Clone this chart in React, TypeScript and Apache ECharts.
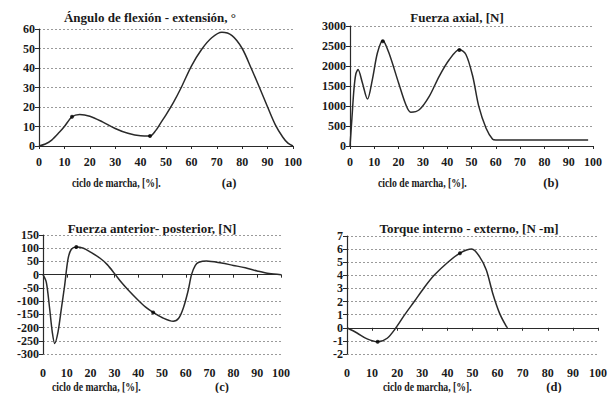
import React, { useEffect, useRef } from "react";
import * as echarts from "echarts";

// Panel (a): Ángulo de flexión - extensión
const aX = [0, 2.5, 5, 8, 10, 13, 16, 20, 25, 30, 35, 40, 43.7, 46, 48, 50, 53, 56, 60, 64, 68, 72, 76, 80, 83.5, 86.8, 90, 93, 96, 98, 100];
const aY = [0, 1, 3, 7, 10, 15, 16.2, 15.3, 12.4, 9, 6.5, 5.2, 5.1, 8, 12, 16, 22.5, 30, 41, 49.5, 55.5, 58.3, 56.6, 50, 40, 30, 20, 11, 4.5, 1.5, 0];
const aMarks = [[13, 15], [43.7, 5.1]];

// Panel (b): Fuerza axial
const bX = [0, 0.8, 1.6, 2.4, 3.3, 5, 7.2, 9.2, 11.3, 13.5, 16, 20, 23, 25, 28.5, 32.6, 36.7, 40.9, 45, 47.7, 50.5, 53, 56, 58.7, 60, 65, 70, 80, 90, 98];
const bY = [0, 700, 1400, 1800, 1911, 1600, 1173, 1660, 2330, 2640, 2330, 1575, 1030, 846, 905, 1240, 1743, 2162, 2413, 2288, 1743, 990, 444, 168, 150, 150, 150, 150, 150, 150];
const bMarks = [[13.5, 2620], [45, 2400]];

// Panel (c): Fuerza anterior- posterior
const cX = [0, 1.4, 2.8, 3.9, 4.9, 6.3, 7.7, 9.1, 10.5, 11.9, 14, 17, 20, 24, 27, 30, 33, 36, 40, 43, 46.3, 50, 54.7, 57, 59, 61, 62.4, 64, 65.5, 68.7, 75, 80, 85, 90, 95, 100];
const cY = [0, -29, -129, -217, -260, -217, -129, -41, 59, 96, 105, 100, 85, 62, 38, 5, -30, -60, -97, -122, -143, -162, -176, -165, -125, -60, 0, 35, 47, 52, 44, 35, 26, 14, 4, 0];
const cMarks = [[14, 105], [46.3, -143]];

// Panel (d): Torque interno - externo
const dX = [0, 4, 8, 12.2, 16, 19.5, 23, 26.8, 30.5, 34.7, 40.2, 45, 49.7, 52.8, 55.5, 58.1, 60.8, 63.4, 64];
const dY = [0, -0.4, -0.85, -1.07, -0.8, 0, 1, 2, 3, 4, 5, 5.69, 6.0, 5.43, 4.4, 2.6, 1.1, 0.13, 0];
const dMarks = [[12.2, -1.07], [45, 5.69]];

const titles = [
  "Ángulo de flexión - extensión, °",
  "Fuerza axial, [N]",
  "Fuerza anterior- posterior, [N]",
  "Torque interno - externo, [N -m]",
];
const xName = "ciclo de marcha, [%].";
const panelTags = ["(a)", "(b)", "(c)", "(d)"];

const FONT = "'Liberation Serif', 'Times New Roman', serif";
const TXT = "#1a1a1a";
const LINE = "#2a2a2a";

function zip(xs: number[], ys: number[]) {
  return xs.map((x, i) => [x, ys[i]]);
}

export default function App() {
  const ref = useRef<HTMLDivElement>(null);
  useEffect(() => {
    document.body.style.margin = "0";
    if (!ref.current) return;
    const chart = echarts.init(ref.current, null, { renderer: "svg" });

    const grids = [
      { left: 39, top: 29, width: 254, height: 117 },
      { left: 350, top: 26, width: 243, height: 120 },
      { left: 43, top: 235, width: 238, height: 119 },
      { left: 347, top: 236, width: 251, height: 118 },
    ];
    const yRanges = [
      { min: 0, max: 60, interval: 10 },
      { min: 0, max: 3000, interval: 500 },
      { min: -300, max: 150, interval: 50 },
      { min: -2, max: 7, interval: 1 },
    ];
    const lbl = { fontFamily: FONT, fontWeight: "bold" as const, fontSize: 12, color: TXT };

    const xAxes: any[] = [];
    const yAxes: any[] = [];
    const series: any[] = [];
    const datas = [zip(aX, aY), zip(bX, bY), zip(cX, cY), zip(dX, dY)];
    const marks = [aMarks, bMarks, cMarks, dMarks];

    grids.forEach((g, i) => {
      const zeroMid = i >= 2;
      xAxes.push({
        type: "value",
        gridIndex: i,
        min: 0,
        max: 100,
        interval: 10,
        position: "bottom",
        axisLine: { show: !zeroMid, onZero: false, lineStyle: { color: LINE, width: 1.2 } },
        axisTick: { show: !zeroMid, length: 3, lineStyle: { color: LINE } },
        axisLabel: { ...lbl, margin: zeroMid ? 13 : 10 },
        splitLine: { show: false },
      });
      yAxes.push({
        type: "value",
        gridIndex: i,
        ...yRanges[i],
        axisLine: { show: true, onZero: false, lineStyle: { color: LINE, width: 1.2 } },
        axisTick: { show: true, length: 4, lineStyle: { color: LINE } },
        axisLabel: { ...lbl, margin: 4, formatter: (v: number) => String(v) },
        splitLine: { show: true, lineStyle: { color: "#9a9a9a", type: [2, 2], width: 1 } },
      });
    });
    [2, 3].forEach((gi) => {
      xAxes.push({
        type: "value",
        gridIndex: gi,
        min: 0,
        max: 100,
        interval: 10,
        position: "bottom",
        axisLine: { show: true, onZero: true, lineStyle: { color: LINE, width: 1.2 } },
        axisTick: { show: true, length: 3, lineStyle: { color: LINE } },
        axisLabel: { show: false },
        splitLine: { show: false },
      });
    });

    datas.forEach((d, i) => {
      series.push({
        type: "line",
        xAxisIndex: i,
        yAxisIndex: i,
        data: d,
        smooth: 0.3,
        symbol: "none",
        lineStyle: { color: LINE, width: 1.5 },
        z: 3,
      });
      series.push({
        type: "scatter",
        xAxisIndex: i,
        yAxisIndex: i,
        data: marks[i],
        symbolSize: 4,
        itemStyle: { color: "#000" },
        z: 4,
      });
    });

    const titlePos = [
      [150, 17],
      [457, 17],
      [152, 228],
      [469, 228],
    ];
    const xNamePos = [
      [72, 183],
      [378, 183],
      [52, 387],
      [383, 387],
    ];
    const tagPos = [
      [229, 183],
      [551, 183],
      [222, 387],
      [554, 387],
    ];
    const graphics: any[] = [];
    titles.forEach((t, i) => {
      graphics.push({
        type: "text",
        x: titlePos[i][0],
        y: titlePos[i][1],
        style: { text: t, fontFamily: FONT, fontWeight: "bold", fontSize: 13, fill: TXT, align: "center", verticalAlign: "middle" },
      });
      graphics.push({
        type: "text",
        x: xNamePos[i][0],
        y: xNamePos[i][1],
        scaleX: 0.78,
        style: { text: xName, fontFamily: FONT, fontWeight: "bold", fontSize: 12.5, fill: TXT, align: "left", verticalAlign: "middle" },
      });
      graphics.push({
        type: "text",
        x: tagPos[i][0],
        y: tagPos[i][1],
        style: { text: panelTags[i], fontFamily: FONT, fontWeight: "bold", fontSize: 12.5, fill: TXT, align: "center", verticalAlign: "middle" },
      });
    });

    chart.setOption({
      animation: false,
      backgroundColor: "#fff",
      grid: grids,
      xAxis: xAxes,
      yAxis: yAxes,
      series,
      graphic: graphics,
    });
    return () => chart.dispose();
  }, []);
  return <div ref={ref} style={{ width: 612, height: 393 }} />;
}
